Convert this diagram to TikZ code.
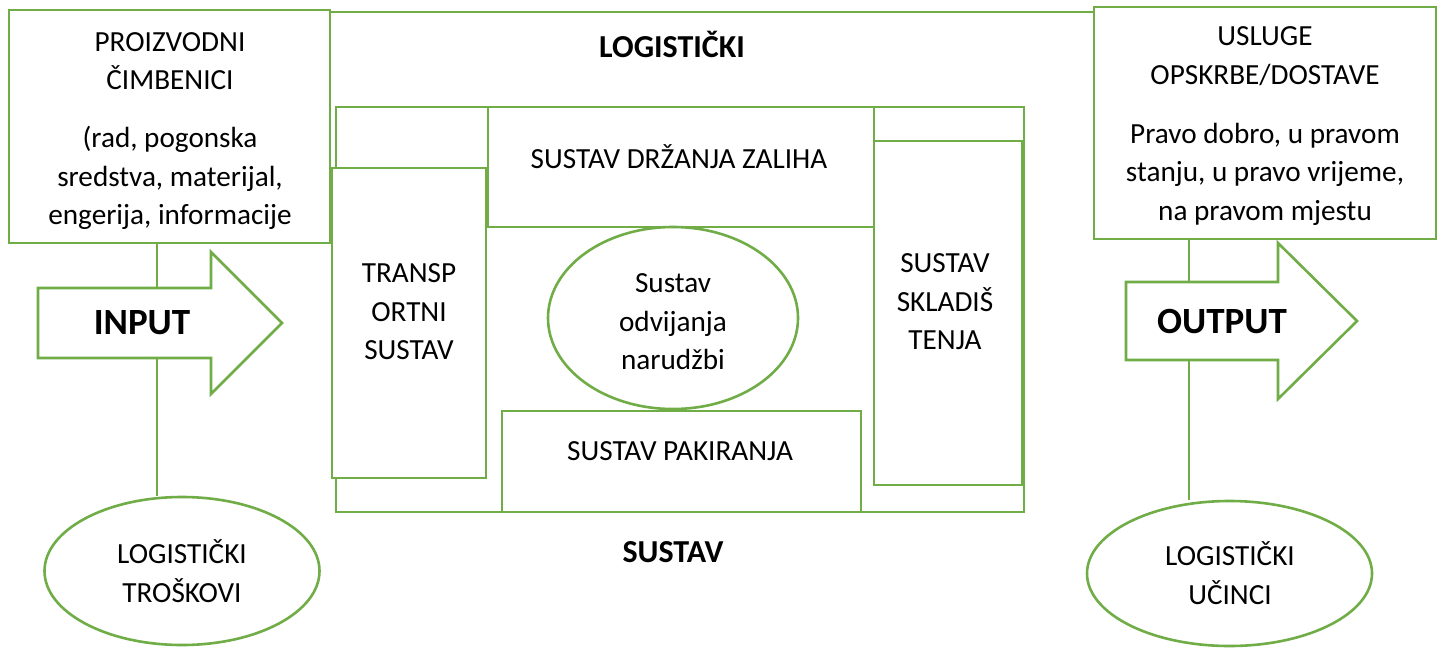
\documentclass[tikz,border=0pt]{standalone}
\usepackage{fontspec}
\setmainfont{Carlito}
\usetikzlibrary{shapes.geometric}
\definecolor{lg}{HTML}{70AD47}
\begin{document}
\begin{tikzpicture}[x=0.5pt,y=-0.5pt,
 box/.style={draw=lg,line width=1.3pt,fill=white,inner sep=0pt,rectangle},
 ell/.style={draw=lg,line width=1.3pt,fill=white,inner sep=0pt,ellipse},
 conn/.style={draw=lg,line width=1.3pt},
 arr/.style={draw=lg,line width=1.3pt,fill=white,line join=miter},
 txt/.style={font=\fontsize{14.6}{19.25}\selectfont,align=center,inner sep=0pt,text=black},
 big/.style={font=\fontsize{18.5}{22}\bfseries\selectfont,inner sep=0pt},
 lab/.style={font=\fontsize{16}{19}\bfseries\selectfont,inner sep=0pt}]
\useasboundingbox (0,0) rectangle (1443,647);
\fill[white] (0,0) rectangle (1443,647);
% outer boxes
\node[box,minimum width=160.5pt,minimum height=116.5pt] (lbox) at (169.5,126.5) {};
\node[box,minimum width=171pt,minimum height=116pt] (rbox) at (1265,123) {};
\coordinate (top) at (700,12);
\draw[conn] (lbox.east |- top) -- (rbox.west |- top);
\node[txt] (lt1) at (170,61) {PROIZVODNI\\ČIMBENICI};
\node[txt] (lt2) at (170,178) {(rad, pogonska\\sredstva, materijal,\\engerija, informacije};
\node[txt] (rt1) at (1265,56) {USLUGE\\OPSKRBE/DOSTAVE};
\node[txt] (rt2) at (1265,174) {Pravo dobro, u pravom\\stanju, u pravo vrijeme,\\na pravom mjestu};
% ellipses bottom
\node[ell,minimum width=137.5pt,minimum height=74pt] (lell) at (182,571) {};
\node[txt] (lelt) at (182,571) {LOGISTIČKI\\TROŠKOVI};
\node[ell,minimum width=142.5pt,minimum height=72.5pt] (rell) at (1229.5,573.5) {};
\node[txt] (relt) at (1230,573) {LOGISTIČKI\\UČINCI};
% connectors
\coordinate (cl) at (157,0);
\coordinate (cr) at (1189,0);
\draw[conn] (lbox.south -| cl) -- (lell.north -| cl);
\draw[conn] (rbox.south -| cr) -- (rell.north -| cr);
% arrows
\draw[arr] (38,288) -- (211,288) -- (211,252) -- (282,323) -- (211,394) -- (211,358) -- (38,358) -- cycle;
\node[big] (inp) at (142,323) {INPUT};
\draw[arr] (1126,282) -- (1278,282) -- (1278,243) -- (1357,321) -- (1278,399) -- (1278,360) -- (1126,360) -- cycle;
\node[big] (outp) at (1222,321) {OUTPUT};
% labels
\node[lab] (l1) at (672,44) {LOGISTIČKI};
\node[lab] (l2) at (673,552) {SUSTAV};
% inner system
\node[box,minimum width=344pt,minimum height=202.5pt] (frame) at (680,309.5) {};
\node[box,minimum width=193pt,minimum height=60pt] (zal) at (681,167) {};
\node[txt] (zalt) at (679,157) {SUSTAV DRŽANJA ZALIHA};
\node[box,minimum width=77pt,minimum height=155pt] (trans) at (409,323) {};
\node[txt] (transt) at (409,312) {TRANSP\\ORTNI\\SUSTAV};
\node[box,minimum width=74pt,minimum height=172pt] (skl) at (948,313) {};
\node[txt] (sklt) at (945,302) {SUSTAV\\SKLADIŠ\\TENJA};
\node[box,minimum width=179.5pt,minimum height=50.5pt] (pak) at (681.5,461.5) {};
\node[txt] (pakt) at (680,451) {SUSTAV PAKIRANJA};
\node[ell,minimum width=125pt,minimum height=91pt] (ord) at (673,318) {};
\node[txt] (ordt) at (673,322) {Sustav\\odvijanja\\narudžbi};
\end{tikzpicture}
\end{document}
